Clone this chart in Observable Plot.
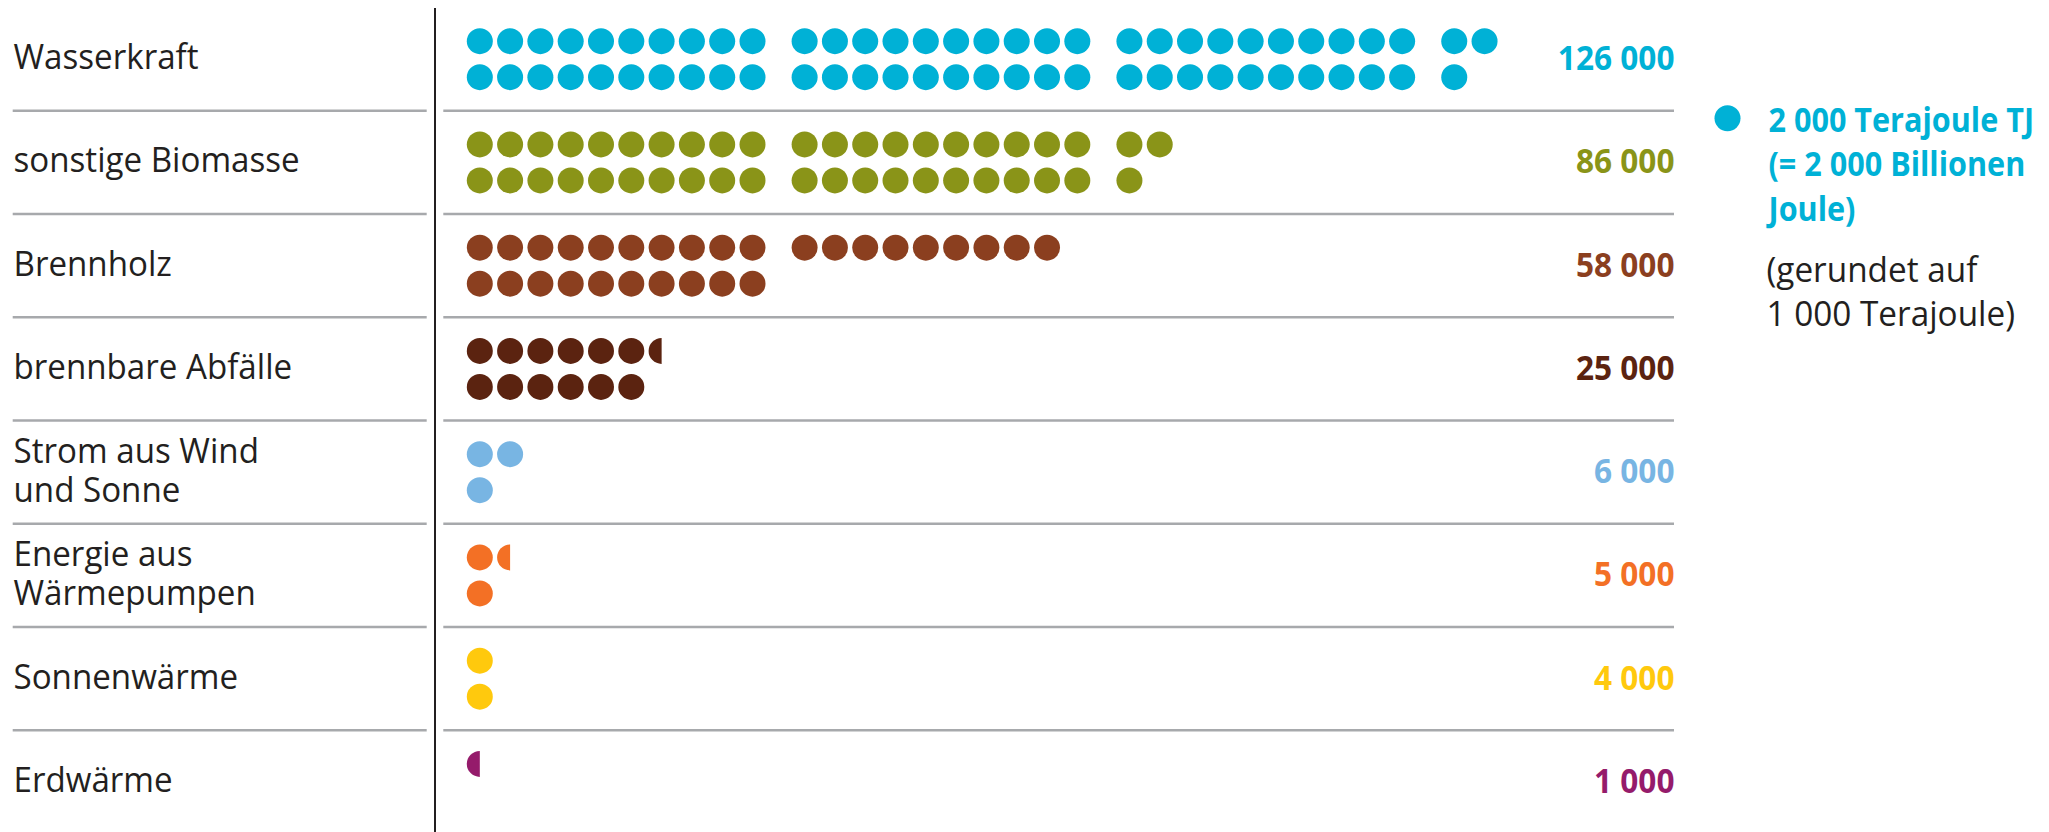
<!DOCTYPE html>
<html><head><meta charset="utf-8">
<script src="https://cdn.jsdelivr.net/npm/d3@7"></script>
<script src="https://cdn.jsdelivr.net/npm/@observablehq/plot@0.6"></script>
<style>
html,body{margin:0;padding:0;background:#fff;}
#chart svg{display:block;}
</style></head><body><div id="chart"></div>
<script>
// ---- data ----
const categories = ["Wasserkraft", "sonstige Biomasse", "Brennholz", "brennbare Abfälle",
  "Strom aus Wind\nund Sonne", "Energie aus\nWärmepumpen", "Sonnenwärme", "Erdwärme"];
const values = [126000, 86000, 58000, 25000, 6000, 5000, 4000, 1000];
const valueLabels = ["126 000", "86 000", "58 000", "25 000", "6 000", "5 000", "4 000", "1 000"];
const colors = ["#00b1d6", "#8a9418", "#8b3f1f", "#5b2310", "#78b5e3", "#f37025", "#ffc90d", "#951b6b"];
// dots per row (1 dot = 2 000 TJ, .5 = half dot)
const topRowDots = [32, 22, 19, 6.5, 2, 1.5, 1, 0.5];
const bottomRowDots = [31, 21, 10, 6, 1, 1, 1, 0];
const legendTitle = "2 000 Terajoule TJ\n(= 2 000 Billionen\nJoule)";
const legendNote = "(gerundet auf\n1 000 Terajoule)";

// ---- layout ----
const W = 2049, H = 832;
const DOT_X0 = 479.3, PITCH = 30.3, GROUP = 10, GROUP_GAP = 0.72;
const BAND_Y0 = 7, BAND_H = 103.25;
const ROW_OFF = 18 / BAND_H;
const R = 13;
const xu = p => (p - DOT_X0) / PITCH;
const yu = p => (p - BAND_Y0) / BAND_H;

const dots = [];
categories.forEach((c, i) => {
  [topRowDots[i], bottomRowDots[i]].forEach((n, r) => {
    const full = Math.floor(n);
    for (let k = 0; k < Math.ceil(n); k++) {
      dots.push({
        cat: c,
        col: k + Math.floor(k / GROUP) * GROUP_GAP,
        row: i + 0.5 + (r === 0 ? -ROW_OFF : ROW_OFF),
        half: k >= full,
        color: colors[i]
      });
    }
  });
});

const halfLeft = {
  draw(ctx, size) {
    const r = Math.sqrt(size / Math.PI);
    ctx.moveTo(0, -r);
    ctx.arc(0, 0, r, -Math.PI / 2, Math.PI / 2, true);
    ctx.closePath();
  }
};

const font = "'Open Sans', 'Noto Sans', sans-serif";

const chart = Plot.plot({
  width: W, height: H, margin: 0,
  x: {type: "linear", domain: [0, 1], range: [DOT_X0, DOT_X0 + PITCH], axis: null},
  y: {type: "linear", domain: [0, 1], range: [BAND_Y0, BAND_Y0 + BAND_H], axis: null},
  color: {type: "identity"},
  marks: [
    Plot.ruleY(d3.range(1, categories.length), {x1: xu(12.7), x2: xu(426.7), stroke: "#a7a9ac", strokeWidth: 2.5}),
    Plot.ruleY(d3.range(1, categories.length), {x1: xu(443.3), x2: xu(1674), stroke: "#a7a9ac", strokeWidth: 2.5}),
    Plot.ruleX([xu(434.5)], {y1: yu(8), y2: yu(833), stroke: "#231f20", strokeWidth: 2}),
    Plot.dot(dots.filter(d => !d.half), {x: "col", y: "row", r: R, fill: "color", stroke: null}),
    Plot.dot(dots.filter(d => d.half), {x: "col", y: "row", r: R, fill: "color", stroke: null, symbol: halfLeft}),
    // text marks, in this order: labels, values, legend title, legend note
    Plot.text(categories, {x: xu(13), y: (d, i) => i + 0.5, text: d => d, textAnchor: "start", lineAnchor: "middle",
      fontSize: 34, lineHeight: 1.15, fill: "#231f20", fontFamily: font, fontWeight: 400, dy: -2.5}),
    Plot.text(valueLabels, {x: xu(1674), y: (d, i) => i + 0.5, text: d => d, textAnchor: "end", lineAnchor: "middle",
      fill: (d, i) => colors[i], fontWeight: "bold", fontSize: 34, fontFamily: font}),
    Plot.dot([0], {x: xu(1727), y: yu(117.8), r: R, fill: colors[0], stroke: null}),
    Plot.text([legendTitle], {x: xu(1768), y: yu(220), text: d => d, textAnchor: "start", lineAnchor: "bottom",
      lineHeight: 1.3, fill: colors[0], fontWeight: "bold", fontSize: 34, fontFamily: font}),
    Plot.text([legendNote], {x: xu(1766), y: yu(325), text: d => d, textAnchor: "start", lineAnchor: "bottom",
      lineHeight: 1.27, fill: "#231f20", fontSize: 34, fontFamily: font, fontWeight: 400})
  ]
});
document.getElementById("chart").appendChild(chart);

// emulate the narrower original faces: squeeze texts horizontally around their anchors
const textGroups = chart.querySelectorAll("g[aria-label='text']");
const squeezeBy = [0.975, 0.93, 0.9, 0.98];
textGroups.forEach((g, gi) => {
  const k = squeezeBy[gi] ?? 1;
  g.querySelectorAll("text").forEach(el => {
    const t = el.getAttribute("transform");
    if (t) {
      el.setAttribute("transform", `${t} scale(${k},1)`);
    } else {
      const x = +el.getAttribute("x") || 0;
      el.setAttribute("transform", `translate(${x},0) scale(${k},1) translate(${-x},0)`);
    }
  });
});
</script></body></html>
